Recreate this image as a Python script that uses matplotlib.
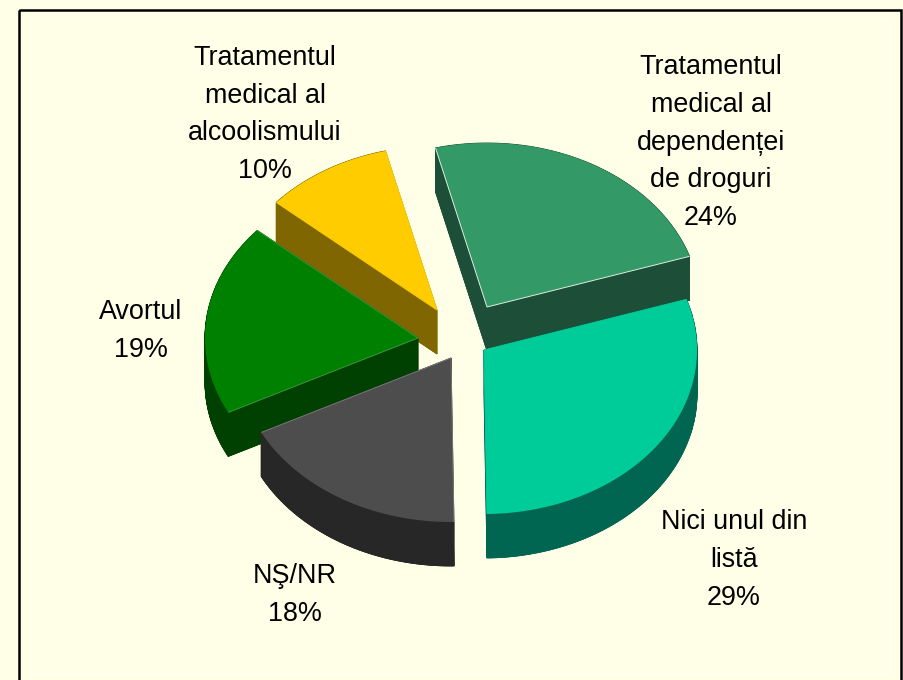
import numpy as np
import matplotlib
matplotlib.use("Agg")
import matplotlib.pyplot as plt
from matplotlib.patches import Polygon, Rectangle

# ---- data (clockwise from the start angle) ----
categories = ["Tratamentul\nmedical al\ndependenței\nde droguri",
              "Nici unul din\nlistă",
              "NŞ/NR",
              "Avortul",
              "Tratamentul\nmedical al\nalcoolismului"]
values = [24, 29, 18, 19, 10]

# ---- style / layout ----
top_colors = ["#339966", "#00CC99", "#4D4D4D", "#008000", "#FFCC00"]
side_colors = ["#1C4E38", "#006652", "#272727", "#004000", "#806600"]
edge_colors = ["#DDEEDD", "#00CC99", "#777777", "#3C963C", "#FFCC00"]
apex_dx = [33, 30, -3, -36, -17]
apex_dy = [-27, 16, 24, 4, -24]
label_x = [711, 734, 295, 141, 265]
label_y = [142.5, 560, 595, 331, 114.5]
draw_order = [0, 4, 3, 2, 1]
BG = "#FFFFE8"
CX, CY = 454, 334
RX, RY = 213, 164
DEPTH = 44
START = 346.0
# the tilted view distorts the slice boundaries slightly (degrees, at each slice's start)
warp = [0.0, -0.4, 2.4, 1.4, 1.0]

fig = plt.figure(figsize=(9.04, 6.80), dpi=100, facecolor=BG)
ax = fig.add_axes([0, 0, 1, 1])
ax.set_xlim(0, 904)
ax.set_ylim(680, 0)
ax.axis("off")

ax.add_patch(Rectangle((30, 20), 860, 654, fc="none", ec="#FFFFF4", lw=1))
ax.add_patch(Rectangle((19, 9.5), 882, 700, fc="none", ec="black", lw=1.8))

fractions = np.array(values) / np.sum(values) * 360.0
bounds = START + np.concatenate([[0], np.cumsum(fractions)])
bounds = bounds + np.array(warp + [warp[0]])


def wedge_outline(i):
    th = np.radians(np.linspace(bounds[i], bounds[i + 1], 120))
    ax0 = CX + apex_dx[i]
    ay0 = CY + apex_dy[i]
    xs = np.concatenate([[ax0], ax0 + RX * np.sin(th)])
    ys = np.concatenate([[ay0], ay0 - RY * np.cos(th)])
    return np.column_stack([xs, ys])


for i in draw_order:
    pts = wedge_outline(i)
    low = pts + [0, DEPTH]
    n = len(pts)
    z = 1 + draw_order.index(i)
    for k in range(n):
        j = (k + 1) % n
        quad = [pts[k], pts[j], low[j], low[k]]
        ax.add_patch(Polygon(quad, closed=True, fc=side_colors[i],
                             ec=side_colors[i], lw=0.6, zorder=z))
    ax.add_patch(Polygon(low, closed=True, fc=side_colors[i], ec=side_colors[i],
                         lw=0.5, zorder=z))
    ax.add_patch(Polygon(pts, closed=True, fc=top_colors[i], ec="none",
                         zorder=z + 0.5))
    ax.plot(pts[[1, 0, -1], 0], pts[[1, 0, -1], 1], color=edge_colors[i], lw=0.7,
            zorder=z + 0.6, solid_capstyle="butt")

for name, v, x, y in zip(categories, values, label_x, label_y):
    ax.text(x, y, f"{name}\n{v}%", ha="center", va="center", ma="center",
            fontsize=19.4, family=["Liberation Sans", "DejaVu Sans"],
            color="black", linespacing=1.58, zorder=20)

fig.savefig("out.png", dpi=100, facecolor=BG)
